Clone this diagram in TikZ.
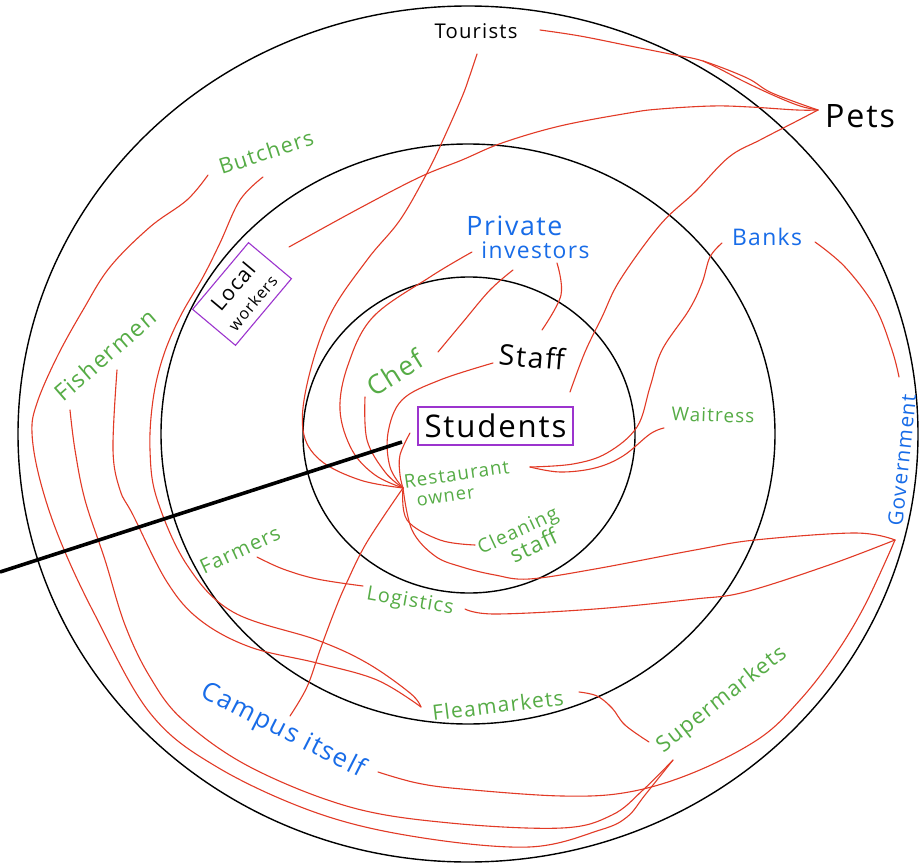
\documentclass[tikz,border=0pt]{standalone}
\usepackage{fontspec}
\usepackage{graphicx}
\setmainfont[LetterSpace=6]{Open Sans}
\definecolor{hgreen}{RGB}{86,172,70}
\definecolor{hblue}{RGB}{24,108,232}
\definecolor{hred}{RGB}{226,58,38}
\definecolor{hpurple}{RGB}{156,52,206}
% scale a label to a fixed width
\newcommand{\fitw}[2]{\resizebox{#1}{!}{#2}}

\begin{document}
\begin{tikzpicture}[x=1pt,y=-1pt,
  ring/.style={draw=black, line width=1.4pt},
  link/.style={draw=hred, line width=1.1pt, line cap=round, line join=round},
  klbl/.style={inner sep=0pt, text=black},
  glbl/.style={inner sep=0pt, text=hgreen},
  blbl/.style={inner sep=0pt, text=hblue},
  keybox/.style={draw=hpurple, line width=1.1pt, inner sep=0pt},
  spoke/.style={draw=black, line width=3.6pt}
]
\fill[white] (0,0) rectangle (924,864);
\useasboundingbox (0,0) rectangle (924,864);

% the three rings
\draw[ring] (468,434) ellipse [x radius=450pt, y radius=428pt];
\draw[ring] (468,434) ellipse [x radius=307pt, y radius=290pt];
\draw[ring] (469,435) ellipse [x radius=166pt, y radius=158pt];

% labels
\node[klbl] (tourists) at (476,31) {\fitw{83pt}{Tourists}};
\node[klbl] (pets) at (860,116) {\fitw{70pt}{Pets}};
\node[glbl, rotate=18] (butchers) at (266,152) {\fitw{98pt}{Butchers}};
\node[glbl, rotate=41] (fishermen) at (105,355) {\fitw{126pt}{Fishermen}};
\node[keybox, rotate=50, minimum width=87pt, minimum height=56pt, align=center,
      font=\fontsize{10}{24}\selectfont] (localw) at (242,294)
      {\fitw{56pt}{Local}\\\fitw{66pt}{workers}};
\node[blbl, align=left, font=\fontsize{10}{23}\selectfont] (private) at (528,237)
      {\fitw{96pt}{Private}\\\hspace*{15pt}\fitw{108pt}{investors}};
\node[blbl] (banks) at (767,237) {\fitw{70pt}{Banks}};
\node[blbl, rotate=84] (govt) at (902,460) {\fitw{132pt}{Government}};
\node[glbl, rotate=32] (chef) at (395,373) {\fitw{62pt}{Chef}};
\node[klbl, rotate=-5] (staff) at (532,357) {\fitw{66pt}{Staff}};
\node[keybox, minimum width=155pt, minimum height=38pt] (students) at (495.5,426)
      {\fitw{142pt}{Students}};
\node[glbl, rotate=-2] (waitress) at (713,415) {\fitw{83pt}{Waitress}};
\node[glbl, rotate=8, align=left, font=\fontsize{10}{20}\selectfont] (owner) at (458,484)
      {\fitw{106pt}{Restaurant}\\\hspace*{10pt}\fitw{58pt}{owner}};
\node[glbl, rotate=25, align=left, font=\fontsize{10}{22}\selectfont] (cleaning) at (522,540)
      {\fitw{86pt}{Cleaning}\\\hspace*{26pt}\fitw{50pt}{staff}};
\node[glbl, rotate=25] (farmers) at (240,550) {\fitw{86pt}{Farmers}};
\node[glbl, rotate=-10] (logistics) at (410,602) {\fitw{88pt}{Logistics}};
\node[glbl, rotate=7] (flea) at (498,705) {\fitw{132pt}{Fleamarkets}};
\node[glbl, rotate=38] (super) at (722,700) {\fitw{158pt}{Supermarkets}};
\node[blbl, rotate=-27] (campus) at (283,731) {\fitw{180pt}{Campus itself}};

% connector ends
\coordinate (P) at (818,110);
\coordinate (T1) at (540,30);
\coordinate (T2) at (477,54);
\coordinate (LWc) at (289,247);
\coordinate (StuTR) at (570,392);
\coordinate (H) at (403,488);
\coordinate (PIa) at (472,252);
\coordinate (PIb) at (513,270);
\coordinate (PIc) at (557,263);
\coordinate (ChefA) at (365,397);
\coordinate (ChefB) at (438,352);
\coordinate (StaffA) at (493,363);
\coordinate (StaffB) at (542,330);
\coordinate (StuL) at (410,433);
\coordinate (R) at (530,467);
\coordinate (BanL) at (722,243);
\coordinate (BanR) at (815,242);
\coordinate (Wai) at (664,428);
\coordinate (G) at (895,540);
\coordinate (Gtop) at (899,377);
\coordinate (Cln) at (475,545);
\coordinate (LogL) at (363,586);
\coordinate (LogR) at (465,609);
\coordinate (Far) at (257,557);
\coordinate (FleL) at (421,707);
\coordinate (FleR) at (579,692);
\coordinate (SupL) at (649,742);
\coordinate (SupB) at (673,760);
\coordinate (CamU) at (290,716);
\coordinate (CamR) at (378,772);
\coordinate (ButL) at (208,175);
\coordinate (ButR) at (263,177);
\coordinate (FisL) at (70,410);
\coordinate (FisR) at (117,370);
\coordinate (SpokeOut) at (0,572);
\coordinate (SpokeIn) at (402,442);

% links
\draw[link] plot[smooth, tension=0.6] coordinates {(T1) (580,36) (630,46) (670,54) (703,61) (747,78) (772,93) (P)};
\draw[link] plot[smooth, tension=0.6] coordinates {(703,61) (718,68) (745,82) (775,96) (800,106) (P)};
\draw[link] plot[smooth, tension=0.6] coordinates {(P) (797,110) (750,107) (712,106) (660,109) (629,113) (560,126) (502,143) (462,160) (420,177) (360,208) (LWc)};
\draw[link] plot[smooth, tension=0.6] coordinates {(P) (795,122) (760,140) (729,157) (695,192) (660,225) (620,280) (602,317) (585,352) (StuTR)};
\draw[link] plot[smooth, tension=0.6] coordinates {(T2) (470,75) (462,97) (443,140) (427,173) (400,220) (367,260) (330,315) (308,380) (303,430) (320,460) (360,480) (H)};
\draw[link] plot[smooth, tension=0.6] coordinates {(PIa) (430,277) (373,317) (348,365) (340,410) (352,450) (375,475) (H)};
\draw[link] plot[smooth, tension=0.6] coordinates {(ChefA) (367,440) (385,472) (H)};
\draw[link] plot[smooth, tension=0.6] coordinates {(StaffA) (440,380) (402,400) (388,433) (390,467) (H)};
\draw[link] plot[smooth, tension=0.6] coordinates {(StuL) (400,455) (400,475) (H)};
\draw[link] plot[smooth, tension=0.6] coordinates {(PIc) (561,295) (StaffB)};
\draw[link] plot[smooth, tension=0.6] coordinates {(PIb) (490,290) (463,322) (ChefB)};
\draw[link] plot[smooth, tension=0.6] coordinates {(BanL) (710,257) (702,283) (689,310) (662,350) (650,387) (637,427) (607,453) (573,464) (R)};
\draw[link] plot[smooth, tension=0.6] coordinates {(Wai) (650,434) (623,456) (595,468) (560,472) (R)};
\draw[link] plot[smooth, tension=0.6] coordinates {(H) (407,520) (440,540) (Cln)};
\draw[link] plot[smooth, tension=0.6] coordinates {(H) (412,530) (435,556) (462,567) (495,575) (529,579) (595,569) (695,550) (755,540) (855,533) (G)};
\draw[link] plot[smooth, tension=0.6] coordinates {(LogR) (495,614) (595,609) (695,599) (745,592) (829,565) (G)};
\draw[link] plot[smooth, tension=0.6] coordinates {(BanR) (845,267) (875,307) (892,350) (Gtop)};
\draw[link] plot[smooth, tension=0.6] coordinates {(CamU) (307,687) (320,650) (335,610) (347,582) (367,542) (H)};
\draw[link] plot[smooth, tension=0.6] coordinates {(CamR) (417,783) (462,789) (562,796) (629,792) (695,772) (760,738) (800,700) (835,655) (865,605) (G)};
\draw[link] plot[smooth, tension=0.6] coordinates {(Far) (283,569) (317,579) (LogL)};
\draw[link] plot[smooth, tension=0.6] coordinates {(FleR) (597,696) (612,708) (625,725) (SupL)};
\draw[link] plot[smooth, tension=0.6] coordinates {(ButL) (187,200) (150,227) (110,267) (83,310) (57,357) (37,403) (32,433) (40,480) (60,540) (95,615) (150,713) (217,767) (317,813) (417,837) (529,847) (600,830) (627,817) (645,795) (SupB)};
\draw[link] plot[smooth, tension=0.6] coordinates {(FisL) (75,450) (85,500) (105,560) (125,625) (150,677) (183,720) (250,767) (350,807) (450,823) (562,828) (612,815) (643,790) (SupB)};
\draw[link] plot[smooth, tension=0.6] coordinates {(FisR) (113,450) (120,490) (133,515) (167,582) (200,620) (250,647) (317,663) (377,680) (FleL)};
\draw[link] plot[smooth, tension=0.6] coordinates {(ButR) (240,200) (220,243) (203,277) (180,317) (163,357) (153,400) (150,450) (157,499) (187,565) (233,612) (317,640) (367,663) (410,693) (FleL)};

% the thick black spoke
\draw[spoke] (SpokeOut) -- (SpokeIn);
\end{tikzpicture}
\end{document}
